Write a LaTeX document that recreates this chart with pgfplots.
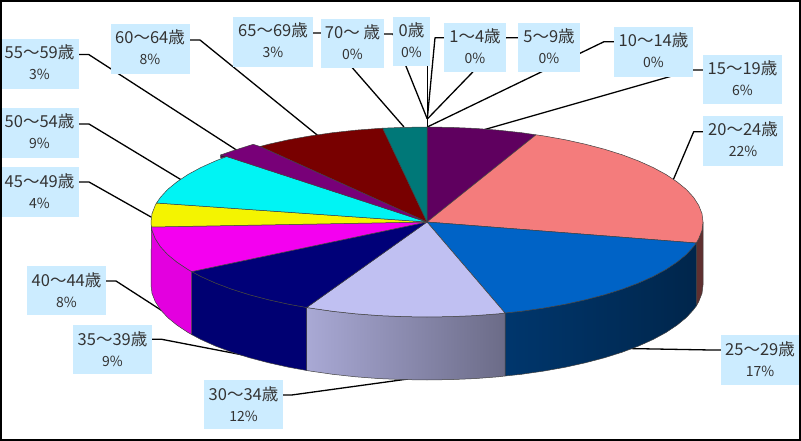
\documentclass[border=0pt]{standalone}
\usepackage{fontspec}
\usepackage{pgfplots}
\pgfplotsset{compat=1.18}
\newfontfamily\jp{Noto Sans CJK JP}
\definecolor{lblue}{HTML}{CCECFF}
\definecolor{cplum}{HTML}{5F005F}
\definecolor{cpink}{HTML}{F47C7C}
\definecolor{cblue}{HTML}{0063C6}
\definecolor{clav}{HTML}{C0C0F2}
\definecolor{cnavy}{HTML}{000078}
\definecolor{cmag}{HTML}{F400F0}
\definecolor{cyel}{HTML}{F4F400}
\definecolor{ccya}{HTML}{00F4F4}
\definecolor{cpur}{HTML}{780078}
\definecolor{cmar}{HTML}{780000}
\definecolor{cteal}{HTML}{007878}
\definecolor{cbrown}{HTML}{5F3030}
\tikzset{
  slice/.style={draw=black!75,line width=0.5pt,line join=round},
  lead/.style={black,line width=1.3pt,line join=round},
  lab/.style={anchor=base,inner sep=0pt,font=\jp\fontsize{16.5}{18}\selectfont,text=black!80},
  labb/.style={anchor=base,inner sep=0pt,font=\jp\fontsize{14}{16}\selectfont,text=black!80},
}
% box x0 x1 y0 y1, text centre, two lines of text
\newcommand{\lbl}[7]{%
  \addplot[fill=lblue,draw=none] coordinates {(#1,#3) (#2,#3) (#2,#4) (#1,#4)} --cycle;
  \node[lab] at (axis cs:#5,#3) [yshift=-20pt] {#6};
  \node[labb] at (axis cs:#5,#3) [yshift=-41pt] {#7};
}
\begin{document}
\begin{tikzpicture}
\begin{axis}[scale only axis,width=801pt,height=441pt,
  xmin=0,xmax=801,ymin=0,ymax=441,y dir=reverse,hide axis,clip=false]

% leader lines, under the pie
\addplot[lead] coordinates {(79,54.5) (88.7,54.5) (238,151)};
\addplot[lead] coordinates {(190,40) (200,40) (318,135.7)};
\addplot[lead] coordinates {(313,33) (322,33) (404,127)};
\addplot[lead] coordinates {(384,34) (393,34) (427.3,119)};
\addplot[lead] coordinates {(427.3,60) (427.3,127)};
\addplot[lead] coordinates {(444,37.7) (435,37.7) (427.3,119)};
\addplot[lead] coordinates {(518,37.7) (506,37.7) (427.3,119)};
\addplot[lead] coordinates {(614,41.7) (604,41.7) (427.3,127)};
\addplot[lead] coordinates {(703,70) (693,70) (483,130)};
\addplot[lead] coordinates {(703,131.7) (693.7,131.7) (673.3,179.7)};
\addplot[lead] coordinates {(721,350) (711,350) (627,348.5)};
\addplot[lead] coordinates {(283,395) (291.7,395) (408,379)};
\addplot[lead] coordinates {(152,339.3) (161.7,339.3) (243,355)};
\addplot[lead] coordinates {(106,281) (116,281) (164,312)};
\addplot[lead] coordinates {(79,182) (89,182) (151,217)};
\addplot[lead] coordinates {(79,124) (89,124) (181,179.7)};

% sides
\addplot[slice,fill=cbrown] coordinates {(696.3,243) (698.8,238.5) (702,230.3) (703,222) (703,285) (702,293.3) (698.8,301.5) (696.3,306)} --cycle;
\addplot[slice,left color=cblue!55!black,right color=cblue!38!black] coordinates {(696.3,243) (693.6,246.6) (686.4,254.5) (677.1,262.1) (666,269.5) (653.1,276.5) (638.4,283.1) (622.2,289.2) (604.4,294.8) (585.3,299.8) (565,304.3) (543.6,308.1) (521.4,311.3) (505,313) (505,376) (521.4,374.3) (543.6,371.1) (565,367.3) (585.3,362.8) (604.4,357.8) (622.2,352.2) (638.4,346.1) (653.1,339.5) (666,332.5) (677.1,325.1) (686.4,317.5) (693.6,309.6) (696.3,306)} --cycle;
\addplot[slice,left color=clav!88!black,right color=clav!56!black] coordinates {(505,313) (498.4,313.8) (474.9,315.6) (451.1,316.6) (427,317) (402.9,316.6) (379.1,315.6) (355.6,313.8) (332.6,311.3) (310.4,308.1) (306.7,307.5) (306.7,370.5) (310.4,371.1) (332.6,374.3) (355.6,376.8) (379.1,378.6) (402.9,379.6) (427,380) (451.1,379.6) (474.9,378.6) (498.4,376.8) (505,376)} --cycle;
\addplot[slice,fill=cnavy!95!black] coordinates {(306.7,307.5) (289,304.3) (268.7,299.8) (249.6,294.8) (231.8,289.2) (215.6,283.1) (200.9,276.5) (191.7,271.6) (191.7,334.6) (200.9,339.5) (215.6,346.1) (231.8,352.2) (249.6,357.8) (268.7,362.8) (289,367.3) (306.7,370.5)} --cycle;
\addplot[slice,fill=cmag!93!black] coordinates {(191.7,271.6) (188,269.5) (176.9,262.1) (167.6,254.5) (160.4,246.6) (155.2,238.5) (152,230.3) (151.4,227) (151,285) (152,293.3) (155.2,301.5) (160.4,309.6) (167.6,317.5) (176.9,325.1) (188,332.5) (191.7,334.6)} --cycle;

% top faces
\addplot[slice,fill=cplum] coordinates {(427,222) (427,127) (451.1,127.4) (474.9,128.4) (498.4,130.2) (521.4,132.7) (536,134.8)} --cycle;
\addplot[slice,fill=cpink] coordinates {(427,222) (536,134.8) (543.6,135.9) (565,139.7) (585.3,144.2) (604.4,149.2) (622.2,154.8) (638.4,160.9) (653.1,167.5) (666,174.5) (677.1,181.9) (686.4,189.5) (693.6,197.4) (698.8,205.5) (702,213.7) (703,222) (702,230.3) (698.8,238.5) (696.3,243)} --cycle;
\addplot[slice,fill=cblue] coordinates {(427,222) (696.3,243) (693.6,246.6) (686.4,254.5) (677.1,262.1) (666,269.5) (653.1,276.5) (638.4,283.1) (622.2,289.2) (604.4,294.8) (585.3,299.8) (565,304.3) (543.6,308.1) (521.4,311.3) (505,313)} --cycle;
\addplot[slice,fill=clav] coordinates {(427,222) (505,313) (498.4,313.8) (474.9,315.6) (451.1,316.6) (427,317) (402.9,316.6) (379.1,315.6) (355.6,313.8) (332.6,311.3) (310.4,308.1) (306.7,307.5)} --cycle;
\addplot[slice,fill=cnavy] coordinates {(427,222) (306.7,307.5) (289,304.3) (268.7,299.8) (249.6,294.8) (231.8,289.2) (215.6,283.1) (200.9,276.5) (191.7,271.6)} --cycle;
\addplot[slice,fill=cmag] coordinates {(427,222) (191.7,271.6) (188,269.5) (176.9,262.1) (167.6,254.5) (160.4,246.6) (155.2,238.5) (152,230.3) (151.4,227)} --cycle;
\addplot[slice,fill=cyel] coordinates {(427,222) (151.4,227) (151,222) (152,213.7) (155.2,205.5) (156.5,203)} --cycle;
\addplot[slice,fill=ccya] coordinates {(427,222) (156.5,203) (160.4,197.4) (167.6,189.5) (176.9,181.9) (188,174.5) (200.9,167.5) (215.6,160.9) (226.7,156.5)} --cycle;
\addplot[slice,fill=cmar] coordinates {(427,222) (260,146.5) (268.7,144.2) (289,139.7) (310.4,135.9) (332.6,132.7) (355.6,130.2) (379.1,128.4) (382.7,128.2)} --cycle;
\addplot[slice,fill=cteal] coordinates {(427,222) (382.7,128.2) (402.9,127.4) (427,127)} --cycle;
% the 55-59 slice stands a little out of the pie
\addplot[slice,fill=cpur!60!black] coordinates {(220.5,155) (220.5,158) (226.7,156.5)} --cycle;
\addplot[slice,fill=cpur] coordinates {(427,222) (226.7,156.5) (220.5,155) (232,151) (253.3,144.3) (260,146.5)} --cycle;

% labels
\lbl{1}{79}{39}{89}{39.5}{55～59歳}{3\%}
\lbl{111}{190}{24}{74}{150}{60～64歳}{8\%}
\lbl{233}{313}{17}{67}{273}{65～69歳}{3\%}
\lbl{321}{384}{19}{68}{352.5}{70～ 歳}{0\%}
\lbl{393}{430}{17}{66}{411.5}{0歳}{0\%}
\lbl{444}{506}{23}{72}{475}{1～4歳}{0\%}
\lbl{518}{580}{23}{72}{549}{5～9歳}{0\%}
\lbl{614}{693}{27}{77}{653.5}{10～14歳}{0\%}
\lbl{703}{782}{55}{104}{742.5}{15～19歳}{6\%}
\lbl{703}{783}{116}{166}{743}{20～24歳}{22\%}
\lbl{721}{799}{335}{385}{760}{25～29歳}{17\%}
\lbl{204}{283}{380}{429}{243.5}{30～34歳}{12\%}
\lbl{73}{152}{325}{374}{112.5}{35～39歳}{9\%}
\lbl{27}{106}{266}{315}{66.5}{40～44歳}{8\%}
\lbl{1}{79}{167}{217}{39.5}{45～49歳}{4\%}
\lbl{1}{79}{108}{158}{39.5}{50～54歳}{9\%}

% frame of the picture
\addplot[black,line width=2pt] coordinates {(1,1) (800,1) (800,440) (1,440)} --cycle;
\end{axis}
\end{tikzpicture}
\end{document}
